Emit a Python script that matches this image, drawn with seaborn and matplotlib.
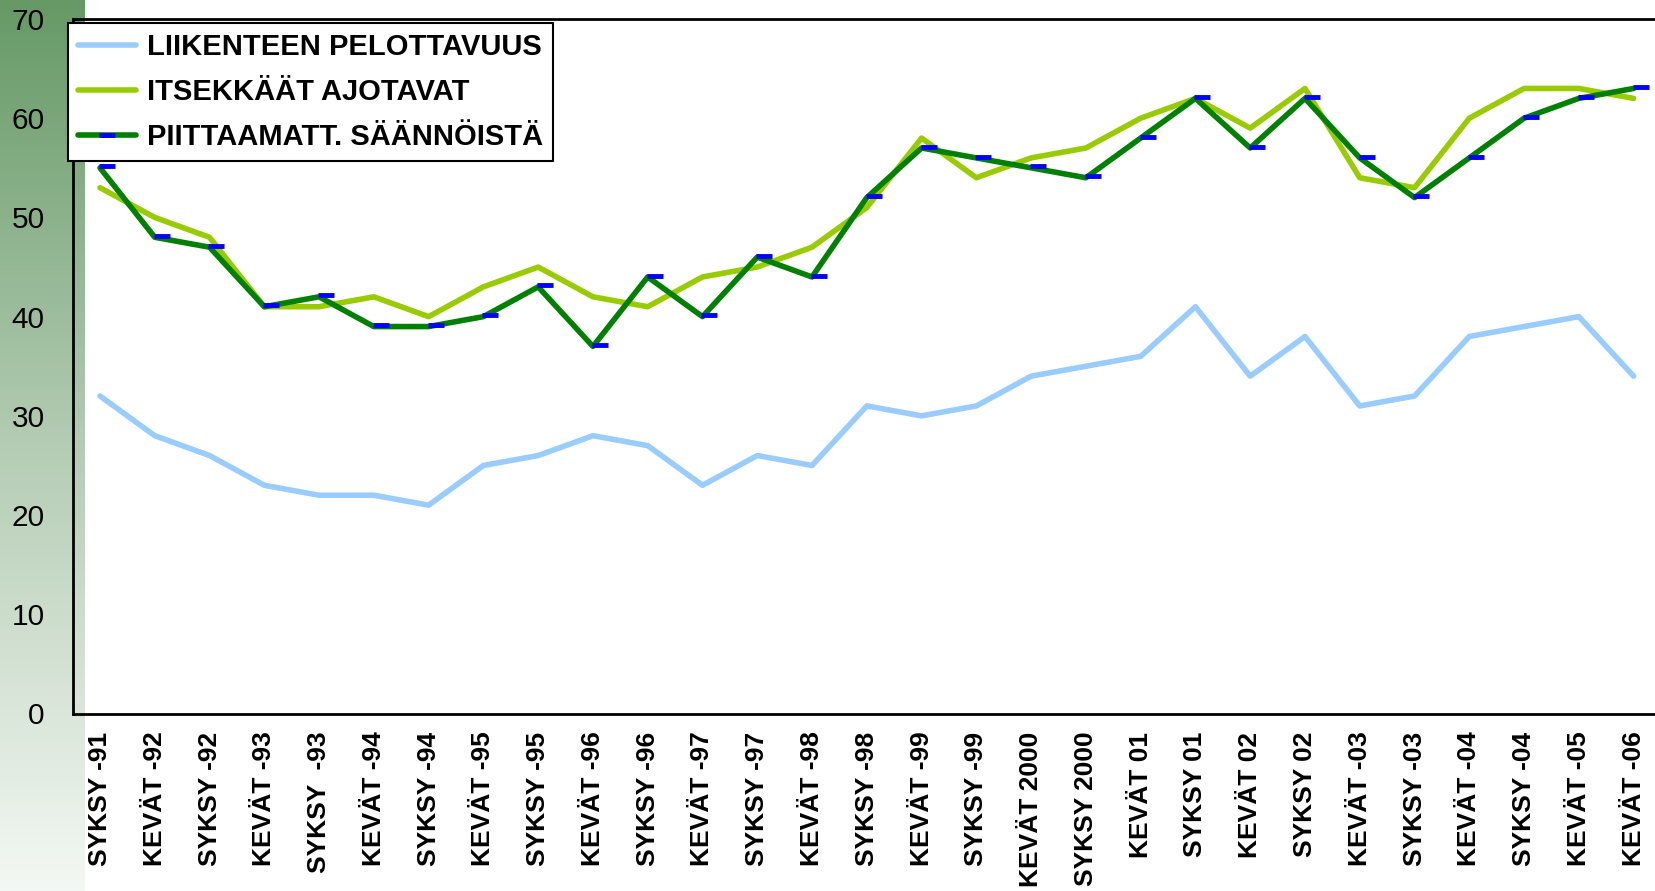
import numpy as np
import pandas as pd
import matplotlib
matplotlib.use("Agg")
import matplotlib.pyplot as plt
import matplotlib.transforms as mtransforms
from matplotlib.lines import Line2D
import seaborn as sns

categories = ["SYKSY -91", "KEVÄT -92", "SYKSY -92", "KEVÄT -93", "SYKSY  -93",
              "KEVÄT -94", "SYKSY -94", "KEVÄT -95", "SYKSY -95", "KEVÄT -96",
              "SYKSY -96", "KEVÄT -97", "SYKSY -97", "KEVÄT -98", "SYKSY -98",
              "KEVÄT -99", "SYKSY -99", "KEVÄT 2000", "SYKSY 2000", "KEVÄT 01",
              "SYKSY 01", "KEVÄT 02", "SYKSY 02", "KEVÄT -03", "SYKSY -03",
              "KEVÄT -04", "SYKSY -04", "KEVÄT -05", "KEVÄT -06"]

pelottavuus = [32, 28, 26, 23, 22, 22, 21, 25, 26, 28, 27, 23, 26, 25, 31,
               30, 31, 34, 35, 36, 41, 34, 38, 31, 32, 38, 39, 40, 34]
itsekkaat = [53, 50, 48, 41, 41, 42, 40, 43, 45, 42, 41, 44, 45, 47, 51,
             58, 54, 56, 57, 60, 62, 59, 63, 54, 53, 60, 63, 63, 62]
piittaamatt = [55, 48, 47, 41, 42, 39, 39, 40, 43, 37, 44, 40, 46, 44, 52,
               57, 56, 55, 54, 58, 62, 57, 62, 56, 52, 56, 60, 62, 63]

series_names = ["LIIKENTEEN PELOTTAVUUS", "ITSEKKÄÄT AJOTAVAT", "PIITTAAMATT. SÄÄNNÖISTÄ"]
colors = ["#99ccff", "#99cc00", "#008000"]

df = pd.DataFrame({
    "pos": np.arange(len(categories)),
    series_names[0]: pelottavuus,
    series_names[1]: itsekkaat,
    series_names[2]: piittaamatt,
})

sns.set_style("white")
plt.rcParams["font.family"] = ["Liberation Sans", "DejaVu Sans"]
plt.rcParams["text.color"] = "black"
plt.rcParams["xtick.color"] = "black"
plt.rcParams["ytick.color"] = "black"

fig = plt.figure(figsize=(16.55, 8.91), dpi=100)

# green gradient strip on the left
strip = fig.add_axes([0, 0, 85 / 1655, 1])
grad = np.linspace(0, 1, 256).reshape(-1, 1)
cmap = matplotlib.colors.LinearSegmentedColormap.from_list("g", ["#669966", "#b4ccb4", "#f4f8f4"])
strip.imshow(grad, aspect="auto", cmap=cmap, extent=[0, 1, 0, 1], origin="upper")
strip.axis("off")

ax = fig.add_axes([72.6 / 1655, 177.5 / 891, 1588.4 / 1655, 694.5 / 891])
ax.patch.set_alpha(0)

for name, col in zip(series_names, colors):
    sns.lineplot(data=df, x="pos", y=name, color=col, linewidth=4,
                 solid_capstyle="round", ax=ax, label=None, legend=False)

# blue dash markers, drawn a little to the right of the points
offset = mtransforms.ScaledTranslation(5 / 72, 1 / 72, fig.dpi_scale_trans)
ax.plot(df["pos"], df[series_names[2]], linestyle="none", marker="_", markersize=12,
        markeredgewidth=3.5, color="#0000ff", transform=ax.transData + offset)

ax.set_xlim(-0.5, len(categories) - 0.5)
ax.set_ylim(0, 70)
ax.set_yticks(range(0, 71, 10))
ax.set_xlabel("")
ax.set_ylabel("")

ax.set_xticks(np.arange(-0.5, len(categories), 1))
ax.set_xticklabels([])
ax.set_xticks(np.arange(len(categories)), minor=True)
ax.set_xticklabels(categories, minor=True, rotation=90, fontsize=19, fontweight="bold", va="top")
ax.tick_params(axis="x", which="major", direction="out", length=9, width=1.5, color="black")
ax.tick_params(axis="x", which="minor", length=0, pad=13)
ax.tick_params(axis="y", direction="out", length=9, width=1.5, color="black", labelsize=21.5, pad=11)

for side in ["left", "bottom", "top"]:
    ax.spines[side].set_visible(True)
    ax.spines[side].set_color("black")
    ax.spines[side].set_linewidth(2)
ax.spines["right"].set_visible(False)

handles = [
    Line2D([], [], color=colors[0], linewidth=4, solid_capstyle="round"),
    Line2D([], [], color=colors[1], linewidth=4, solid_capstyle="round"),
    Line2D([], [], color=colors[2], linewidth=4, solid_capstyle="round",
           marker="_", markersize=12, markeredgewidth=3.5, markeredgecolor="#0000ff"),
]
leg = ax.legend(handles, series_names, loc="upper left", bbox_to_anchor=(-0.003, 0.994),
                borderaxespad=0, frameon=True, fancybox=False, handlelength=2.0,
                handletextpad=0.35, labelspacing=0.58, borderpad=0.35,
                prop={"size": 21, "weight": "bold"})
leg.get_frame().set_edgecolor("black")
leg.get_frame().set_linewidth(1.5)
leg.get_frame().set_facecolor("white")
leg.get_frame().set_alpha(1)

fig.savefig("out.png", dpi=100)
